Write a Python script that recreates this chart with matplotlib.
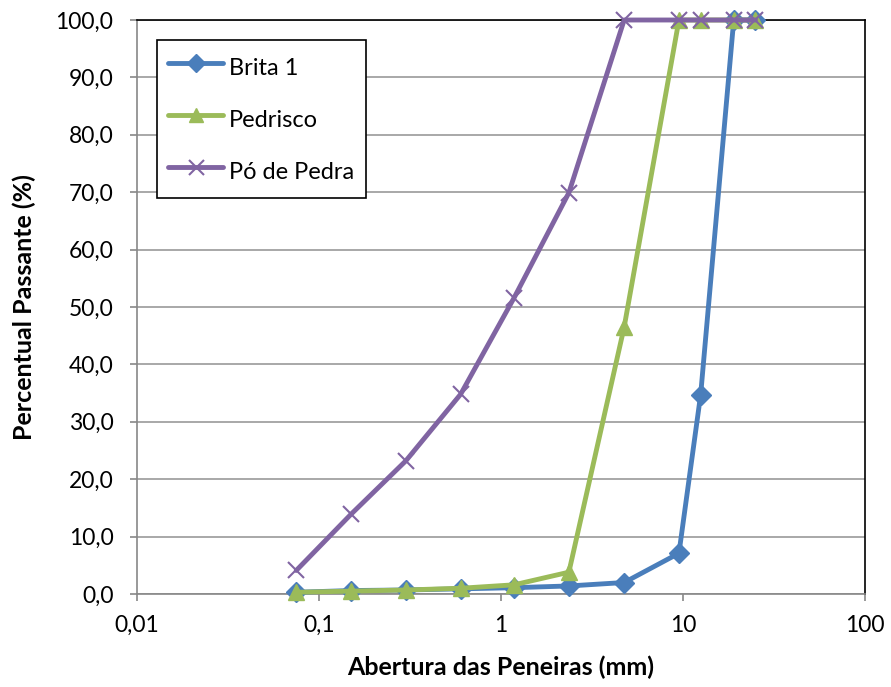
import matplotlib
matplotlib.use("Agg")
import matplotlib.pyplot as plt
from matplotlib.ticker import FixedLocator, FuncFormatter, NullLocator

# sieve openings (mm)
sieves = [0.075, 0.15, 0.3, 0.6, 1.18, 2.36, 4.75, 9.5, 12.5, 19, 25]
brita1 = [0.3, 0.6, 0.7, 0.9, 1.1, 1.4, 2.0, 7.1, 34.7, 100.0, 100.0]
pedrisco = [0.3, 0.5, 0.7, 1.0, 1.6, 3.8, 46.5, 100.0, 100.0, 100.0, 100.0]
po_pedra = [4.1, 13.9, 23.2, 34.8, 51.6, 69.9, 100.0, 100.0, 100.0, 100.0, 100.0]

series = [
    ("Brita 1", brita1, "#4A7EBB", "D", 10),
    ("Pedrisco", pedrisco, "#9BBB59", "^", 11),
    ("Pó de Pedra", po_pedra, "#8064A2", "x", 12),
]

fig = plt.figure(figsize=(8.91, 6.87), dpi=100)
ax = fig.add_axes([137 / 891, 1 - 594 / 687, (865 - 137) / 891, (594 - 20) / 687])

for name, vals, col, mk, ms in series:
    ax.plot(sieves, vals, color=col, lw=3.5, marker=mk, ms=ms,
            mew=1.5 if mk == "x" else 1, mec=col, mfc=col, label=name,
            solid_joinstyle="round", solid_capstyle="round", clip_on=False, zorder=3)

ax.set_xscale("log")
ax.set_xlim(0.01, 100)
ax.set_ylim(0, 100)
ax.xaxis.set_major_locator(FixedLocator([0.01, 0.1, 1, 10, 100]))
ax.xaxis.set_minor_locator(NullLocator())
ax.xaxis.set_major_formatter(FuncFormatter(lambda v, p: f"{v:g}".replace(".", ",")))
ax.set_yticks(range(0, 101, 10))
ax.yaxis.set_major_formatter(FuncFormatter(lambda v, p: f"{v:.1f}".replace(".", ",")))
ax.grid(axis="y", color="#999999", lw=1.2)
ax.set_axisbelow(True)

for s in ("left", "bottom"):
    ax.spines[s].set_color("#888888")
    ax.spines[s].set_linewidth(1.2)
for s in ("top", "right"):
    ax.spines[s].set_color("black")
    ax.spines[s].set_linewidth(1.2)
ax.tick_params(direction="out", length=5, color="#888888", width=1.2,
               labelsize=16.5)
ax.tick_params(axis="y", pad=12)
ax.tick_params(axis="x", pad=10)
for lab in ax.get_xticklabels() + ax.get_yticklabels():
    lab.set_family("Lato")

ax.set_xlabel("Abertura das Peneiras (mm)", fontsize=18, fontweight="bold",
              family="Lato", labelpad=14)
ax.set_ylabel("Percentual Passante (%)", fontsize=18, fontweight="bold",
              family="Lato", labelpad=14)

leg = ax.legend(loc="upper left", bbox_to_anchor=(0.027, 0.965), borderaxespad=0,
                fancybox=False, edgecolor="black", framealpha=1,
                prop={"family": "Lato", "size": 17},
                handlelength=2.3, handleheight=1.6, handletextpad=0.25,
                labelspacing=0.92, borderpad=0.5, markerscale=0.9)
leg.get_frame().set_linewidth(1.2)

fig.savefig("out.png", dpi=100)
